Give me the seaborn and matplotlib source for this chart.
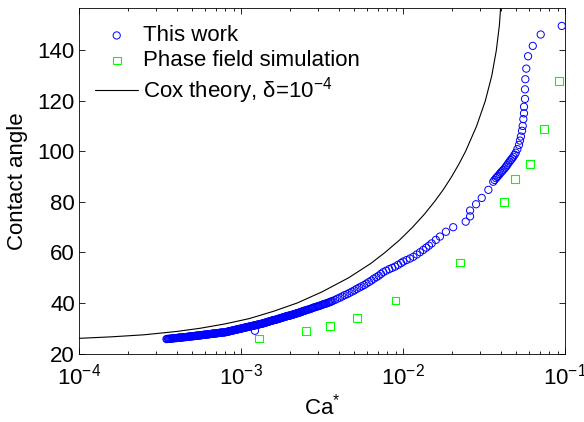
import numpy as np
import pandas as pd
import matplotlib
matplotlib.use("Agg")
import matplotlib.pyplot as plt
from matplotlib.ticker import LogLocator, NullLocator
import seaborn as sns

# ---------------- data ----------------
# "This work": log10(Ca*) and contact angle (deg)
this_log_ca = [
    -3.46, -3.45, -3.44, -3.43, -3.42, -3.41, -3.40, -3.39, -3.38, -3.37,
    -3.36, -3.35, -3.34, -3.33, -3.32, -3.31, -3.30, -3.29, -3.28, -3.27,
    -3.26, -3.25, -3.24, -3.23, -3.22, -3.21, -3.20, -3.19, -3.18, -3.17,
    -3.16, -3.15, -3.14, -3.13, -3.12, -3.11, -3.10, -3.09, -3.08, -3.07,
    -3.06, -3.05, -3.04, -3.03, -3.02, -3.01, -3.00, -2.99, -2.98, -2.97,
    -2.96, -2.95, -2.94, -2.93, -2.92, -2.91, -2.90, -2.89, -2.88, -2.87,
    -2.86, -2.85, -2.84, -2.83, -2.82, -2.81, -2.80, -2.79, -2.78, -2.77,
    -2.76, -2.75, -2.74, -2.73, -2.72, -2.71, -2.70, -2.69, -2.68, -2.67,
    -2.66, -2.65, -2.64, -2.63, -2.62, -2.61, -2.60,
    -2.585, -2.570, -2.555, -2.540, -2.525, -2.510, -2.495, -2.480, -2.465, -2.450,
    -2.435, -2.420, -2.405, -2.390, -2.375, -2.360, -2.345, -2.330, -2.315, -2.300,
    -2.285, -2.270, -2.255, -2.240, -2.225, -2.210, -2.195,
    -2.180, -2.165, -2.150, -2.136, -2.122, -2.104, -2.085, -2.067, -2.049, -2.030,
    -2.012, -1.998, -1.978, -1.957, -1.936, -1.915, -1.895, -1.875, -1.857, -1.840,
    -1.823, -1.797, -1.772, -1.735, -1.690, -1.613, -1.586, -1.586, -1.549, -1.514,
    -1.473, -1.443, -1.435, -1.426, -1.419, -1.412, -1.404, -1.397, -1.389, -1.381,
    -1.372, -1.364, -1.357, -1.350, -1.342, -1.335, -1.327, -1.319, -1.311, -1.304,
    -1.294, -1.284, -1.278, -1.272, -1.265, -1.261, -1.257, -1.253, -1.253, -1.247,
    -1.247, -1.245, -1.239, -1.228, -1.199, -1.150, -1.020,
    -2.914,
    # densely packed part of the band
    -3.455, -3.445, -3.435, -3.425, -3.415, -3.405, -3.395, -3.385, -3.375, -3.365,
    -3.355, -3.345, -3.335, -3.325, -3.315, -3.305, -3.295, -3.285, -3.275, -3.265,
    -3.255, -3.245, -3.235, -3.225, -3.215, -3.205, -3.195, -3.185, -3.175, -3.165,
    -3.155, -3.145, -3.135, -3.125, -3.115, -3.105, -3.095, -3.085, -3.075, -3.065,
    -3.055, -3.045, -3.035, -3.025, -3.015, -3.005, -2.995, -2.985, -2.975, -2.965,
    -2.955, -2.945, -2.935, -2.925, -2.915, -2.905, -2.895, -2.885, -2.875, -2.865,
    -2.855, -2.845, -2.835, -2.825, -2.815, -2.805, -2.795, -2.785, -2.775, -2.765,
    -2.755, -2.745, -2.735, -2.725, -2.715, -2.705, -2.695, -2.685, -2.675, -2.665,
    -2.655, -2.645, -2.635, -2.625, -2.615, -2.605,
    -2.5925, -2.5775, -2.5625, -2.5475, -2.5325, -2.5175, -2.5025, -2.4875, -2.4725,
    -2.4575, -2.4425,
]
this_angle = [
    25.7, 25.8, 25.8, 25.9, 26.0, 26.1, 26.1, 26.2, 26.3, 26.3,
    26.4, 26.5, 26.5, 26.6, 26.7, 26.8, 26.8, 26.9, 27.0, 27.1,
    27.1, 27.2, 27.3, 27.4, 27.5, 27.5, 27.6, 27.7, 27.8, 27.9,
    27.9, 28.0, 28.1, 28.2, 28.3, 28.3, 28.4, 28.5, 28.7, 28.8,
    29.0, 29.1, 29.3, 29.4, 29.6, 29.7, 29.9, 30.0, 30.2, 30.3,
    30.5, 30.6, 30.8, 30.9, 31.1, 31.2, 31.4, 31.5, 31.7, 31.8,
    32.0, 32.2, 32.4, 32.6, 32.8, 33.0, 33.2, 33.3, 33.5, 33.7,
    33.9, 34.1, 34.3, 34.5, 34.7, 34.9, 35.0, 35.2, 35.4, 35.6,
    35.8, 36.0, 36.2, 36.4, 36.7, 36.9, 37.1,
    37.4, 37.7, 38.1, 38.4, 38.7, 39.0, 39.4, 39.7, 40.0, 40.4,
    40.8, 41.2, 41.7, 42.1, 42.6, 43.1, 43.5, 44.0, 44.5, 45.0,
    45.6, 46.1, 46.6, 47.1, 47.7, 48.3, 48.9,
    49.6, 50.2, 50.8, 51.5, 52.2, 52.8, 53.4, 53.9, 54.4, 55.1,
    55.8, 56.4, 57.0, 57.6, 58.3, 59.2, 60.1, 61.0, 61.9, 62.7,
    63.6, 65.0, 66.3, 68.2, 70.0, 72.2, 74.3, 76.6, 79.1, 81.6,
    84.8, 88.0, 88.7, 89.4, 89.9, 90.4, 91.0, 91.6, 92.1, 92.7,
    93.3, 94.0, 94.6, 95.3, 96.0, 96.6, 97.2, 97.9, 98.7, 99.5,
    100.9, 102.6, 104.3, 105.9, 108.2, 110.1, 112.8, 115.1, 117.7, 120.8,
    124.6, 128.6, 132.8, 137.7, 141.8, 146.3, 149.7,
    29.0,
    25.75, 25.8, 25.85, 25.95, 26.05, 26.1, 26.15, 26.25, 26.3, 26.35,
    26.45, 26.5, 26.55, 26.65, 26.75, 26.8, 26.85, 26.95, 27.05, 27.1,
    27.15, 27.25, 27.35, 27.45, 27.5, 27.55, 27.65, 27.75, 27.85, 27.9,
    27.95, 28.05, 28.15, 28.25, 28.3, 28.35, 28.45, 28.6, 28.75, 28.9,
    29.05, 29.2, 29.35, 29.5, 29.65, 29.8, 29.95, 30.1, 30.25, 30.4,
    30.55, 30.7, 30.85, 31.0, 31.15, 31.3, 31.45, 31.6, 31.75, 31.9,
    32.1, 32.3, 32.5, 32.7, 32.9, 33.1, 33.25, 33.4, 33.6, 33.8,
    34.0, 34.2, 34.4, 34.6, 34.8, 34.95, 35.1, 35.3, 35.5, 35.7,
    35.9, 36.1, 36.3, 36.55, 36.8, 37.0,
    37.25, 37.55, 37.9, 38.25, 38.55, 38.85, 39.2, 39.55, 39.85,
    40.2, 40.6,
]

# "Phase field simulation"
phase_ca = [1.29e-3, 2.52e-3, 3.54e-3, 5.18e-3, 9.0e-3, 2.25e-2,
            4.2e-2, 4.91e-2, 6.08e-2, 7.41e-2, 9.18e-2]
phase_angle = [26, 29, 31, 34, 41, 56, 80, 89, 95, 109, 128]

# "Cox theory, delta = 1e-4" (log10 Ca*, angle)
cox_log_ca = [-4.000, -3.800, -3.600, -3.400, -3.251, -3.100, -2.950, -2.800,
              -2.653, -2.500, -2.335, -2.200, -2.111, -2.020, -1.941, -1.870,
              -1.807, -1.750, -1.700, -1.655, -1.614, -1.546, -1.492, -1.452,
              -1.424, -1.405, -1.394]
cox_angle = [26.0, 26.6, 27.4, 28.7, 30.0, 31.7, 33.8, 36.7,
             40.0, 44.4, 50.0, 55.6, 60.0, 65.0, 70.0, 75.0,
             80.0, 85.0, 90.0, 95.0, 100.0, 110.0, 120.0, 130.0,
             140.0, 150.0, 160.0]

x_ticks = [1e-4, 1e-3, 1e-2, 1e-1]
y_ticks = [20, 40, 60, 80, 100, 120, 140]

df_this = pd.DataFrame({"Ca": 10.0 ** np.array(this_log_ca), "angle": this_angle})
df_phase = pd.DataFrame({"Ca": phase_ca, "angle": phase_angle})
df_cox = pd.DataFrame({"Ca": 10.0 ** np.array(cox_log_ca), "angle": cox_angle})

# ---------------- style ----------------
sns.set_theme(style="white")
plt.rcParams["font.family"] = ["Liberation Sans", "DejaVu Sans"]
plt.rcParams["mathtext.fontset"] = "custom"
plt.rcParams["mathtext.rm"] = "Liberation Sans"
plt.rcParams["mathtext.it"] = "Liberation Sans:italic"
plt.rcParams["mathtext.bf"] = "Liberation Sans:bold"
plt.rcParams["axes.edgecolor"] = "black"
plt.rcParams["axes.linewidth"] = 0.6
plt.rcParams["text.color"] = "black"
plt.rcParams["axes.labelcolor"] = "black"
plt.rcParams["xtick.color"] = "black"
plt.rcParams["ytick.color"] = "black"

fig = plt.figure(figsize=(5.84, 4.22), dpi=100)
ax = fig.add_axes([79 / 584, 1 - 353.5 / 422, 486 / 584, 345.5 / 422])

sns.scatterplot(data=df_this, x="Ca", y="angle", marker="o", s=27,
                facecolor="none", edgecolor=(0, 0, 1), linewidth=0.7,
                label="This work", ax=ax, zorder=3)
sns.scatterplot(data=df_phase, x="Ca", y="angle", marker="s", s=30,
                facecolor="none", edgecolor=(0, 1, 0), linewidth=0.8,
                label="Phase field simulation", ax=ax, zorder=3)
sns.lineplot(data=df_cox, x="Ca", y="angle", color="black", linewidth=0.8,
             label="Cox theory, δ=10$^{-4}$", ax=ax, zorder=2)

ax.set_xscale("log")
ax.set_xlim(1e-4, 1e-1)
ax.set_ylim(20, 156.8)
ax.set_xticks(x_ticks)
ax.set_yticks(y_ticks)
ax.xaxis.set_minor_locator(LogLocator(base=10, subs=np.arange(2, 10), numticks=10))
ax.yaxis.set_minor_locator(NullLocator())

ax.tick_params(which="both", direction="in", top=True, right=True,
               bottom=True, left=True, width=0.6, labelsize=16)
ax.tick_params(which="major", length=4)
ax.tick_params(which="minor", length=2.2)
ax.tick_params(axis="x", which="major", pad=7)
ax.tick_params(axis="y", which="major", pad=3)

for sp in ax.spines.values():
    sp.set_visible(True)
    sp.set_color("black")
    sp.set_linewidth(0.6)

ax.set_xlabel("Ca$^{*}$", fontsize=16)
ax.set_ylabel("Contact angle", fontsize=16)
ax.xaxis.set_label_coords(0.5, -0.115)
ax.yaxis.set_label_coords(-0.104, 0.5)

leg = ax.legend(loc="upper left", bbox_to_anchor=(0.033, 0.950), frameon=False,
                fontsize=16, handlelength=1.95, handletextpad=0.2,
                labelspacing=0.18, borderpad=0, borderaxespad=0,
                scatterpoints=1)

fig.savefig("out.png", dpi=100)
